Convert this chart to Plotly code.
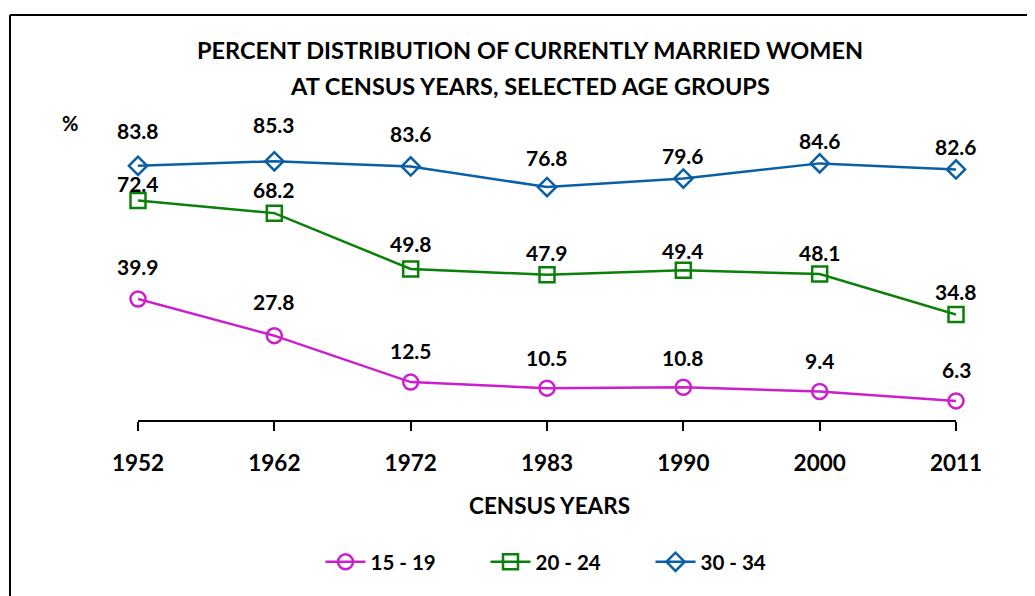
import plotly.graph_objects as go

years = ["1952", "1962", "1972", "1983", "1990", "2000", "2011"]
age_15_19 = [39.9, 27.8, 12.5, 10.5, 10.8, 9.4, 6.3]
age_20_24 = [72.4, 68.2, 49.8, 47.9, 49.4, 48.1, 34.8]
age_30_34 = [83.8, 85.3, 83.6, 76.8, 79.6, 84.6, 82.6]
title_lines = ["PERCENT DISTRIBUTION OF CURRENTLY MARRIED WOMEN",
               "AT CENSUS YEARS, SELECTED AGE GROUPS"]

# label offsets (pixels above point) - styling only
off_15_19 = [32, 34, 32, 31, 30, 31, 31]
off_20_24 = [17, 24, 25, 22, 20, 22, 23]
off_30_34 = [35, 37, 33, 30, 23, 23, 23]

W, H = 1035, 596
OFF = 8  # page offset of the figure in the screenshot
L, R, T, B = 138 - OFF, 956 - OFF, 147 - OFF, 420 - OFF
FONT = "Lato"

def xp(x):
    return (x - OFF - L) / (R - L)

def yp(y):
    return (B - (y - OFF)) / (B - T)

series = [
    ("15 - 19", age_15_19, off_15_19, "#CC1FCC", "circle-open", 15),
    ("20 - 24", age_20_24, off_20_24, "#0A7F0A", "square-open", 15),
    ("30 - 34", age_30_34, off_30_34, "#0B5FA5", "diamond-open", 14),
]

fig = go.Figure()
annotations = []
for name, vals, offs, color, sym, size in series:
    fig.add_trace(go.Scatter(
        x=years, y=vals, name=f"<b>{name}</b>", mode="lines+markers",
        line=dict(color=color, width=2.5),
        marker=dict(symbol=sym, size=size, color=color,
                    line=dict(color=color, width=2.5)),
        cliponaxis=False,
    ))
    for i, (v, o) in enumerate(zip(vals, offs)):
        annotations.append(dict(
            x=i, y=v, xref="x", yref="y", text=f"<b>{v:.1f}</b>",
            showarrow=False, yshift=o, font=dict(family=FONT, size=21, color="black"),
            xanchor="center", yanchor="middle",
        ))

for line_text, ypos in zip(title_lines, [50, 86]):
    annotations.append(dict(
        x=xp(530), y=yp(ypos), xref="paper", yref="paper",
        text=f"<b>{line_text}</b>",
        showarrow=False, font=dict(family=FONT, size=23.5, color="black"),
        xanchor="center", yanchor="middle",
    ))
annotations.append(dict(
    x=xp(70), y=yp(123), xref="paper", yref="paper", text="<b>%</b>",
    showarrow=False, font=dict(family=FONT, size=20, color="black"),
    xanchor="center", yanchor="middle",
))
annotations.append(dict(
    x=xp(549), y=yp(505), xref="paper", yref="paper", text="<b>CENSUS YEARS</b>",
    showarrow=False, font=dict(family=FONT, size=22.5, color="black"),
    xanchor="center", yanchor="middle",
))

shapes = [
    dict(type="line", xref="paper", yref="paper", x0=xp(10), x1=xp(1060),
         y0=yp(15), y1=yp(15), line=dict(color="black", width=2)),
    dict(type="line", xref="paper", yref="paper", x0=xp(10), x1=xp(10),
         y0=yp(15), y1=yp(620), line=dict(color="black", width=2)),
]

fig.update_layout(
    width=W, height=H,
    margin=dict(l=L, r=W - R, t=T, b=H - B),
    paper_bgcolor="white", plot_bgcolor="white",
    annotations=annotations, shapes=shapes,
    showlegend=True,
    legend=dict(orientation="h", x=xp(568), xanchor="center", y=yp(562), yanchor="middle",
                font=dict(family=FONT, size=20.5, color="black"),
                itemwidth=40, entrywidth=110, entrywidthmode="pixels",
                tracegroupgap=0),
    font=dict(family=FONT, color="black"),
)
fig.update_xaxes(type="category", range=[0, 6], showline=True, linecolor="black",
                 linewidth=1.5, ticks="outside", ticklen=9, tickwidth=1.5,
                 tickcolor="black", showgrid=False, zeroline=False,
                 tickfont=dict(family=FONT, size=22.5, color="black"),
                 ticklabelstandoff=13, tickprefix="<b>", ticksuffix="</b>")
fig.update_yaxes(range=[0, 90], visible=False)

fig.write_html("out.html")
